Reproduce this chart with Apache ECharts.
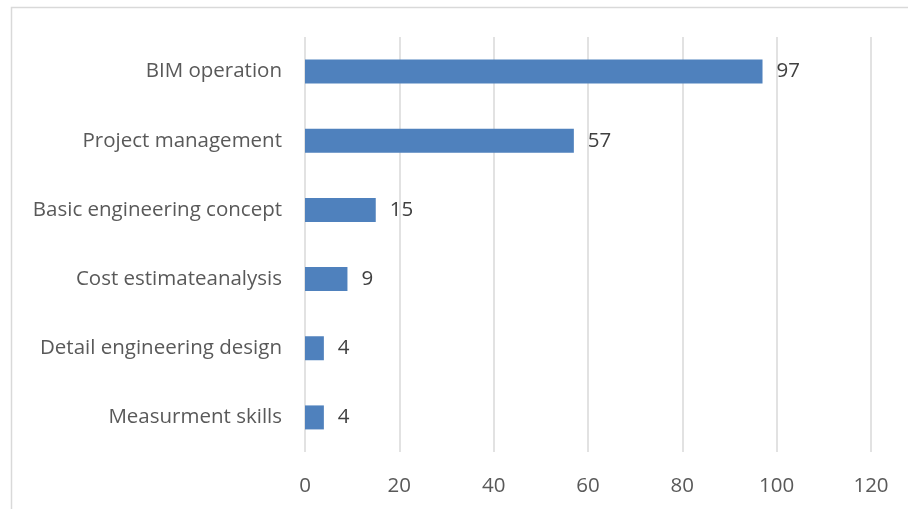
<!DOCTYPE html>
<html><head><meta charset="utf-8">
<script src="https://cdn.jsdelivr.net/npm/echarts@6/dist/echarts.min.js"></script>
<style>html,body{margin:0;padding:0;background:#fff}#c{width:908px;height:509px}</style>
</head><body><div id="c"></div>
<script>
var categories = ["BIM operation", "Project management", "Basic engineering concept", "Cost estimateanalysis", "Detail engineering design", "Measurment skills"];
var values = [97, 57, 15, 9, 4, 4];
var xTicks = {min: 0, max: 120, interval: 20};

var chart = echarts.init(document.getElementById('c'), null, {renderer: 'canvas'});
var font = '"Open Sans", "Noto Sans", sans-serif';
chart.setOption({
  animation: false,
  backgroundColor: '#fff',
  graphic: [{type: 'rect', shape: {x: 11.5, y: 7.5, width: 920, height: 520}, style: {fill: 'none', stroke: '#d9d9d9', lineWidth: 1.5}}],
  grid: {left: 305, right: 37, top: 37, bottom: 57},
  xAxis: {
    type: 'value', min: xTicks.min, max: xTicks.max, interval: xTicks.interval,
    axisLine: {show: false}, axisTick: {show: false},
    splitLine: {show: true, lineStyle: {color: '#d9d9d9', width: 1.5}},
    axisLabel: {color: '#595959', fontSize: 20.5, fontFamily: font, margin: 24}
  },
  yAxis: {
    type: 'category', data: categories, inverse: true,
    axisLine: {show: false}, axisTick: {show: false},
    axisLabel: {color: '#595959', fontSize: 20.5, fontFamily: font, margin: 23, padding: [3, 0, 0, 0]}
  },
  series: [{
    type: 'bar', data: values, barWidth: 24,
    itemStyle: {color: '#4f81bd'},
    label: {show: true, position: 'right', distance: 14, color: '#404040', fontSize: 20.5, fontFamily: font, padding: [3, 0, 0, 0]}
  }]
});
</script></body></html>
